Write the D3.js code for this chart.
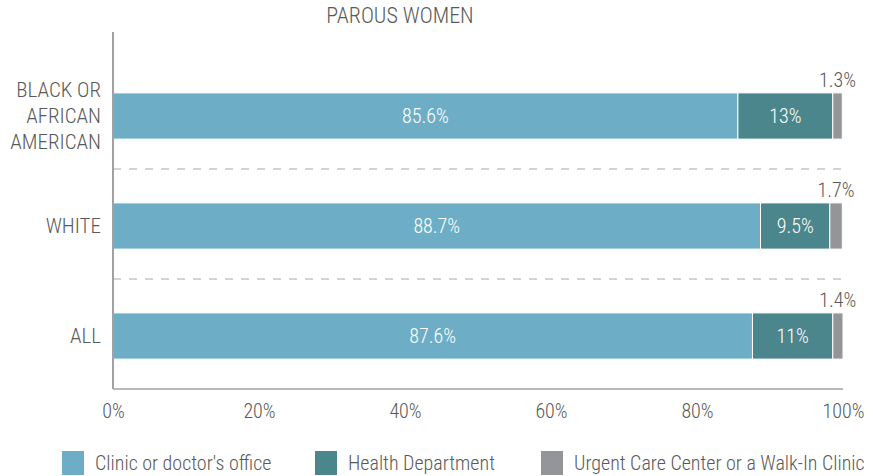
<!DOCTYPE html>
<html>
<head>
<meta charset="utf-8">
<script src="https://cdn.jsdelivr.net/npm/d3@7"></script>
<style>
  body { margin: 0; background: #fff; }
  svg text { font-family: "Roboto Condensed", "Liberation Sans Narrow", "Arial Narrow", sans-serif; font-weight: 300; fill: #595959; }
</style>
</head>
<body>
<div id="chart"></div>
<script>
// Data
const groups = ["BLACK OR AFRICAN AMERICAN", "WHITE", "ALL"];
const groupLines = [["BLACK OR", "AFRICAN", "AMERICAN"], ["WHITE"], ["ALL"]];
const seriesNames = ["Clinic or doctor's office", "Health Department", "Urgent Care Center or a Walk-In Clinic"];
const clinic = [85.6, 88.7, 87.6];
const healthDept = [13, 9.5, 11];
const urgentCare = [1.3, 1.7, 1.4];
const clinicLabels = ["85.6%", "88.7%", "87.6%"];
const healthLabels = ["13%", "9.5%", "11%"];
const urgentLabels = ["1.3%", "1.7%", "1.4%"];
const xTicks = [0, 20, 40, 60, 80, 100];
const title = "PAROUS WOMEN";

const colors = ["#6daec6", "#4b868d", "#949599"];

function draw() {
    const W = 873, H = 476;
    const svg = d3.select("#chart").append("svg")
        .attr("width", W)
        .attr("height", H);

    const x = d3.scaleLinear().domain([0, 100]).range([113, 843]);
    const y = d3.scaleBand().domain(groups).range([61, 391])
        .paddingInner(0.58).paddingOuter(0.29);

    // Title
    svg.append("text")
        .attr("x", 400).attr("y", 23)
        .attr("text-anchor", "middle")
        .style("font-size", "22px")
        .text(title);

    // dashed separators between groups
    for (let i = 0; i < groups.length - 1; i++) {
        const yy = (y(groups[i]) + y.bandwidth() + y(groups[i + 1])) / 2 - 2;
        svg.append("line")
            .attr("x1", x(0)).attr("x2", x(100))
            .attr("y1", yy).attr("y2", yy)
            .attr("stroke", "#a6a6a6")
            .attr("stroke-width", 1)
            .attr("stroke-dasharray", "8,8");
    }

    // stacked segments
    const rows = groups.map((g, i) => ({ g, vals: [clinic[i], healthDept[i], urgentCare[i]] }));
    rows.forEach((r, i) => {
        let acc = 0;
        r.vals.forEach((v, k) => {
            svg.append("rect")
                .attr("x", x(acc))
                .attr("y", y(r.g))
                .attr("width", x(acc + v) - x(acc))
                .attr("height", y.bandwidth())
                .attr("fill", colors[k])
                .attr("stroke", "#fff")
                .attr("stroke-width", 1);
            acc += v;
        });
        const cy = y(r.g) + y.bandwidth() / 2;
        svg.append("text")
            .attr("x", x(clinic[i] / 2)).attr("y", cy)
            .attr("dy", "0.36em")
            .attr("text-anchor", "middle")
            .style("font-size", "20px").style("fill", "#fff")
            .text(clinicLabels[i]);
        svg.append("text")
            .attr("x", x(clinic[i] + healthDept[i] / 2)).attr("y", cy)
            .attr("dy", "0.36em")
            .attr("text-anchor", "middle")
            .style("font-size", "20px").style("fill", "#fff")
            .text(healthLabels[i]);
        svg.append("text")
            .attr("x", x(clinic[i] + healthDept[i] + urgentCare[i] / 2)).attr("y", y(r.g) - 6)
            .attr("text-anchor", "middle")
            .style("font-size", "20px")
            .text(urgentLabels[i]);

        // category label
        const lines = groupLines[i];
        const lh = 26;
        lines.forEach((ln, j) => {
            svg.append("text")
                .attr("x", 101)
                .attr("y", cy + (j - (lines.length - 1) / 2) * lh - 1)
                .attr("dy", "0.36em")
                .attr("text-anchor", "end")
                .style("font-size", "21px")
                .text(ln);
        });
    });

    // axes lines
    svg.append("line")
        .attr("x1", x(0)).attr("x2", x(0))
        .attr("y1", 32).attr("y2", 389)
        .attr("stroke", "#a0a0a5").attr("stroke-width", 2);
    svg.append("line")
        .attr("x1", x(0)).attr("x2", x(100))
        .attr("y1", 389).attr("y2", 389)
        .attr("stroke", "#a0a0a5").attr("stroke-width", 1.5);

    // x tick labels
    const xAxis = svg.append("g")
        .attr("transform", "translate(0,389)")
        .call(d3.axisBottom(x).tickValues(xTicks).tickSize(0).tickPadding(15).tickFormat(d => d + "%"));
    xAxis.select(".domain").remove();
    xAxis.selectAll("text")
        .style("font-size", "20px")
        .style("fill", "#595959")
        .style("font-family", null);

    // Legend
    const legendX = [62, 315, 541];
    seriesNames.forEach((name, k) => {
        const g = svg.append("g").attr("transform", `translate(${legendX[k]},451)`);
        g.append("rect")
            .attr("width", 22).attr("height", 24)
            .attr("fill", colors[k]);
        g.append("text")
            .attr("x", 33).attr("y", 12)
            .attr("dy", "0.36em")
            .style("font-size", "20px")
            .text(name);
    });
}

draw();
</script>
</body>
</html>
